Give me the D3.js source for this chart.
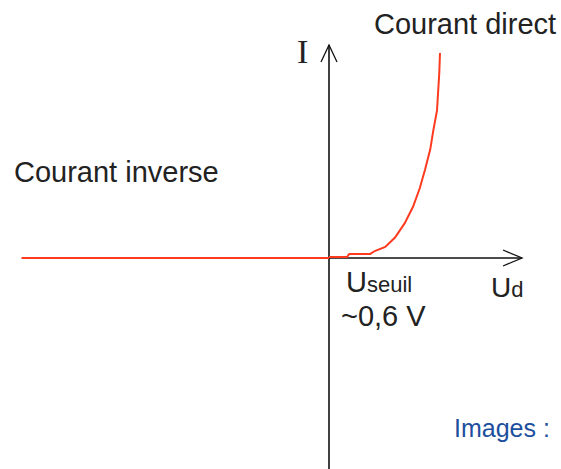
<!DOCTYPE html>
<html>
<head>
<meta charset="utf-8">
<script src="https://cdn.jsdelivr.net/npm/d3@7"></script>
<style>
  body { margin: 0; background: #fff; }
  text { font-family: "Liberation Sans", Arial, sans-serif; fill: #222; }
</style>
</head>
<body>
<div class="chart"></div>
<script>
// diode characteristic, U in volts, I in mA (arbitrary)
const reverseU = [-4.1, 0];
const reverseI = [0, 0];

const forwardU = [0, 0.24, 0.27, 0.55, 0.61, 0.75, 0.88, 1.01, 1.12, 1.21, 1.28, 1.35, 1.39, 1.44, 1.47, 1.48];
const forwardI = [0.5, 0.5, 2, 2, 3.4, 5.4, 10, 17, 25, 34, 43, 53, 62, 72, 90, 100];

const labels = {
  direct: "Courant direct",
  inverse: "Courant inverse",
  seuil: "~0,6 V",
  credit: "Images :"
};

const width = 561, height = 469;

const svg = d3.select(".chart").append("svg")
  .attr("width", width)
  .attr("height", height);

const x = d3.scaleLinear().domain([0, 1]).range([329, 404]);
const y = d3.scaleLinear().domain([0, 100]).range([258, 53]);

const red = "#ff3b1f";

// axes
const ax = svg.append("g").attr("stroke", "#111").attr("stroke-width", 1.6).attr("fill", "none");
ax.append("line").attr("x1", x(0)).attr("x2", x(0)).attr("y1", height).attr("y2", 45);
ax.append("path").attr("d", `M${x(0) - 8},62 L${x(0)},45 L${x(0) + 8},62`).attr("stroke-width", 1.3);
ax.append("line").attr("x1", x(-0.09)).attr("x2", 522).attr("y1", y(0)).attr("y2", y(0));
ax.append("path").attr("d", `M503,${y(0) - 8} L522,${y(0)} L503,${y(0) + 8}`).attr("stroke-width", 1.3);

const line = d3.line().x(d => x(d[0])).y(d => y(d[1]));

svg.append("path")
  .datum(d3.zip(reverseU, reverseI))
  .attr("d", line)
  .attr("fill", "none")
  .attr("stroke", red)
  .attr("stroke-width", 2);

svg.append("path")
  .datum(d3.zip(forwardU, forwardI))
  .attr("d", line)
  .attr("fill", "none")
  .attr("stroke", red)
  .attr("stroke-width", 2);

// texts
svg.append("text").attr("x", 374).attr("y", 34).attr("font-size", 29).text(labels.direct);
svg.append("text").attr("x", 14).attr("y", 182).attr("font-size", 29).text(labels.inverse);

svg.append("text").attr("x", 297).attr("y", 63)
  .style("font-family", "'Liberation Serif', serif")
  .attr("font-size", 34).text("I");

const us = svg.append("text").attr("x", 346).attr("y", 292).attr("font-size", 29);
us.append("tspan").text("U");
us.append("tspan").attr("font-size", 22).text("seuil");

svg.append("text").attr("x", 341).attr("y", 326).attr("font-size", 29).text(labels.seuil);

const ud = svg.append("text").attr("x", 491).attr("y", 297).attr("font-size", 28);
ud.append("tspan").text("U");
ud.append("tspan").attr("font-size", 22).text("d");

svg.append("text").attr("x", 454).attr("y", 437).attr("font-size", 25)
  .style("fill", "#1d4f9e").text(labels.credit);
</script>
</body>
</html>
